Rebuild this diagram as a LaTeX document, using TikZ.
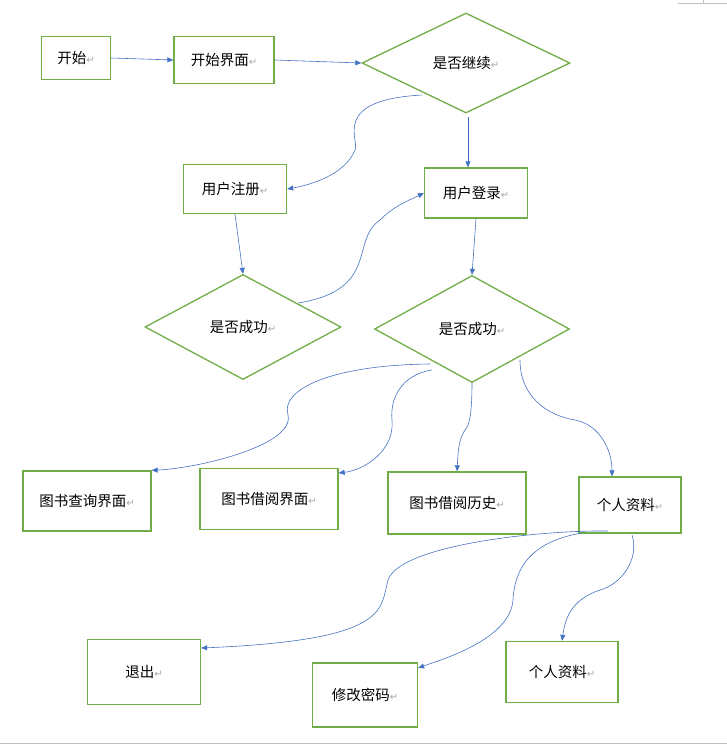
\documentclass[tikz,border=0pt]{standalone}
\usepackage{fontspec}
\setmainfont{Noto Sans CJK SC}
\newfontfamily\dvs{DejaVu Sans}
\usetikzlibrary{shapes.geometric,arrows.meta}
\definecolor{gbox}{HTML}{70AD47}
\definecolor{blink}{HTML}{4472C4}
\newcommand{\parmk}{{\dvs\color{gray!70}\fontsize{10}{10}\selectfont ↵}}
\begin{document}
\begin{tikzpicture}[x=1pt,y=-1pt,
  every node/.style={font=\fontsize{14.5}{16}\selectfont},
  box/.style={draw=gbox,line width=1.3pt,minimum width=#1,inner sep=0pt},
  dia/.style={draw=gbox,line width=1.3pt,diamond,aspect=2,minimum width=196pt,minimum height=105pt,inner sep=0pt},
  ln/.style={draw=blink,line width=0.6pt,-{Triangle[length=6pt,width=5pt]}}]
\useasboundingbox (0,0) rectangle (727,745);
\draw[gray!50] (0,743) -- (727,743);
\draw[gray!50] (678,3) -- (727,3) (703,0)--(703,3);
\node[box=69pt,minimum height=43pt] (s) at (76,58) {开始\parmk};
\node[box=100pt,minimum height=47pt] (ui) at (224,60) {开始界面\parmk};
\node[dia,minimum width=208pt,minimum height=100pt] (d1) at (466,63) {是否继续\parmk};
\node[box=103pt,minimum height=49pt] (reg) at (235,189) {用户注册\parmk};
\node[box=103pt,minimum height=50pt] (log) at (476,193) {用户登录\parmk};
\node[dia] (d2) at (243,327) {是否成功\parmk};
\node[dia,minimum width=195pt,minimum height=107pt] (d3) at (472,329) {是否成功\parmk};
\node[box=128pt,minimum height=60pt] (q) at (87,501) {图书查询界面\parmk};
\node[box=138pt,minimum height=61pt] (b) at (269,499) {图书借阅界面\parmk};
\node[box=138pt,minimum height=62pt] (h) at (457,503) {图书借阅历史\parmk};
\node[box=102pt,minimum height=56pt] (p) at (630,505) {个人资料\parmk};
\node[box=113pt,minimum height=65pt] (e) at (144,672) {退出\parmk};
\node[box=105pt,minimum height=64pt] (m) at (365,695) {修改密码\parmk};
\node[box=112pt,minimum height=61pt] (p2) at (562,672) {个人资料\parmk};
\coordinate (a1) at (422,95);
\coordinate (a2) at (298,303);
\coordinate (a3) at (430,364);
\coordinate (a4) at (432,370);
\coordinate (a5) at (472,382);
\coordinate (a6) at (520,360);
\coordinate (a7) at (608,531);
\coordinate (a8) at (582,533);
\coordinate (a9) at (632,535);
\coordinate (t1) at (468,117);
\draw[ln] (s.east) -- (ui.west);
\draw[ln] (ui.east) -- (d1.west);
\draw[ln] (t1) -- (log.north -| t1);
\draw[ln] (a1) .. controls (330,100) and (360,140) .. (355,150) .. controls (345,175) and (310,185) .. (reg.east);
\draw[ln] (reg.south) -- (d2.north);
\draw[ln] (a2) .. controls (380,290) and (350,240) .. (380,220) .. controls (395,205) and (410,200) .. (log.west);
\draw[ln] (log.south) -- (d3.north);
\draw[ln] (a3) .. controls (330,365) and (280,390) .. (288,415) .. controls (295,445) and (200,468) .. (q.north east);
\draw[ln] (a4) .. controls (400,375) and (390,400) .. (392,420) .. controls (395,450) and (365,470) .. (b.east|-0,473);
\draw[ln] (a5) .. controls (472,410) and (470,425) .. (465,430) .. controls (458,440) and (458,455) .. (h.north);
\draw[ln] (a6) .. controls (520,395) and (545,415) .. (575,420) .. controls (600,425) and (612,450) .. (p.north -| 612,0);
\draw[ln] (a7) .. controls (540,530) and (400,545) .. (388,580) .. controls (380,610) and (390,640) .. (e.east|-0,648);
\draw[ln] (a8) .. controls (540,540) and (515,560) .. (513,600) .. controls (510,640) and (440,660) .. (m.east|-0,668);
\draw[ln] (a9) .. controls (640,560) and (620,585) .. (600,590) .. controls (570,600) and (565,620) .. (p2.north);
\end{tikzpicture}
\end{document}
